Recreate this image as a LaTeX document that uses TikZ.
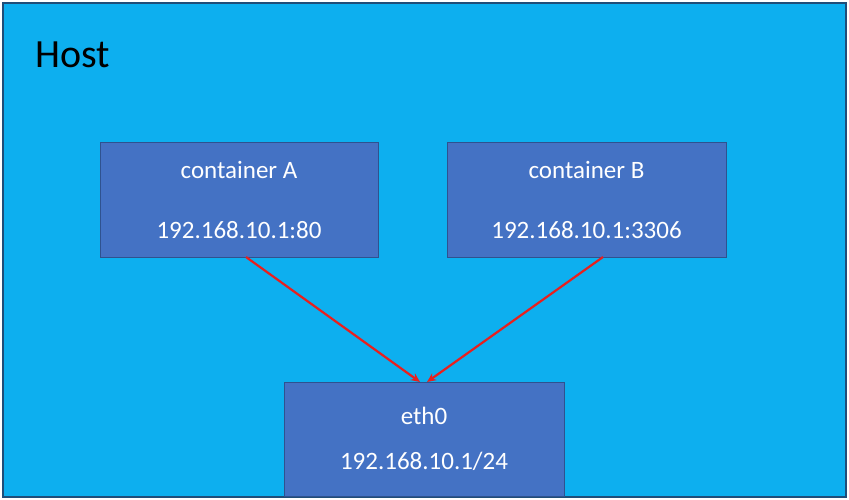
\documentclass[tikz,border=0pt]{standalone}
\usepackage{fontspec}
\setmainfont{Carlito}
\usetikzlibrary{arrows.meta}
\definecolor{hostbg}{HTML}{0DAFEF}
\definecolor{hostbd}{HTML}{1F4E79}
\definecolor{boxfill}{HTML}{4472C4}
\definecolor{boxbd}{HTML}{2F528F}
\definecolor{arr}{HTML}{E8201E}
\begin{document}
\begin{tikzpicture}[x=1pt,y=-1pt,
  cbox/.style={draw=boxbd,fill=boxfill,line width=1pt,text=white,align=center,font=\fontsize{25}{30}\selectfont},
  conn/.style={draw=arr,line width=2.2pt,-{Stealth[length=9pt,width=8pt]}}]
\useasboundingbox (0,0) rectangle (849,500);
\fill[white] (0,0) rectangle (849,500);
\node[draw=hostbd,fill=hostbg,line width=1.2pt,minimum width=843pt,minimum height=494pt,inner sep=0pt] (host) at (424.5,250) {};
\node[anchor=west,font=\fontsize{40}{44}\selectfont] (hl) at (32,55) {Host};
\node[cbox,minimum width=278pt,minimum height=114pt] (a) at (239,200) {container A\\[30pt]192.168.10.1:80};
\node[cbox,minimum width=279pt,minimum height=114pt] (b) at (586.5,200) {container B\\[30pt]192.168.10.1:3306};
\node[cbox,minimum width=280pt,minimum height=114pt,font=\fontsize{25}{45}\selectfont] (e) at (424,439) {eth0\\192.168.10.1/24};
\coordinate (sa) at (246,257);
\coordinate (sb) at (603,257);
\coordinate (ea) at (420,382);
\coordinate (eb) at (427,382);
\draw[conn] (sa) -- (ea);
\draw[conn] (sb) -- (eb);
\end{tikzpicture}
\end{document}
